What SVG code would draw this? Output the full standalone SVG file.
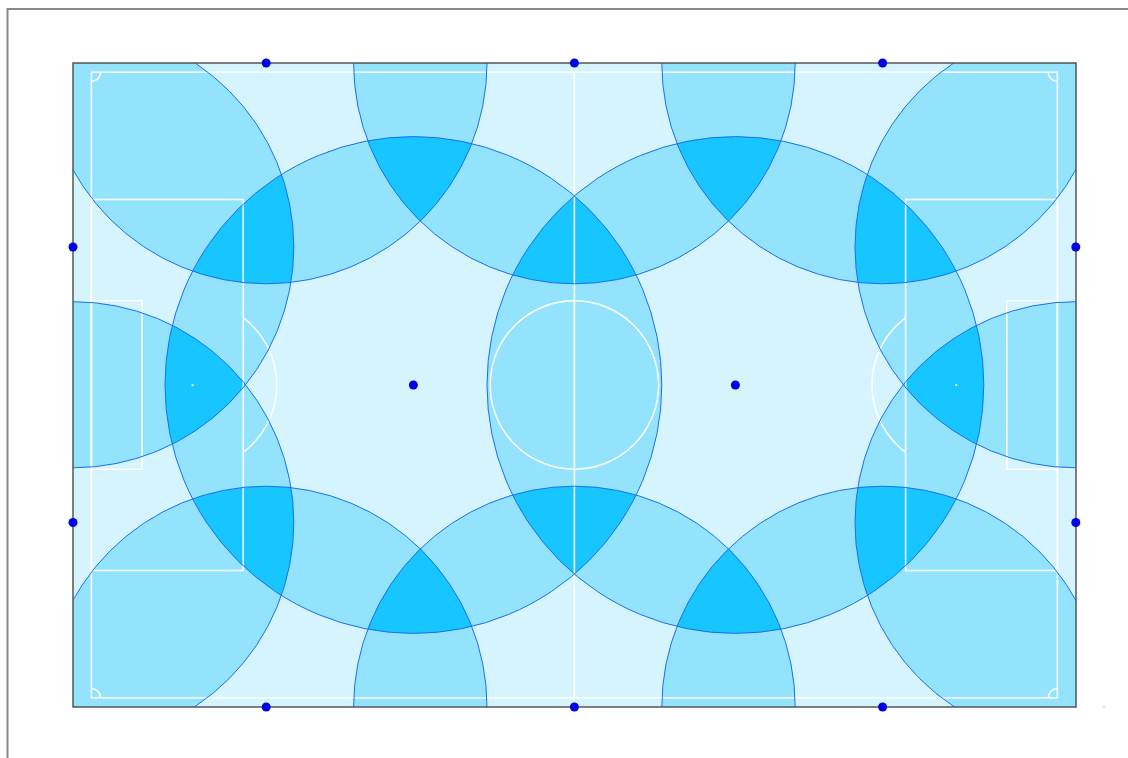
<svg xmlns="http://www.w3.org/2000/svg" width="1128" height="758" viewBox="0 0 1128 758">
<style>
.two{fill:#94e3fd}
.three{fill:#17c5ff}
.ring{fill:none;stroke:#1a6ff0;stroke-width:1}
.line{fill:none;stroke:#ffffff;stroke-width:1.5}
.dot{fill:#0000e6}
</style>
<defs>
<clipPath id="field"><rect x="73" y="63" width="1003" height="644"/></clipPath>
<clipPath id="cS1"><circle cx="266.2" cy="63" r="220.8"/></clipPath>
<clipPath id="cS2"><circle cx="574.4" cy="63" r="220.8"/></clipPath>
<clipPath id="cS3"><circle cx="882.6" cy="63" r="220.8"/></clipPath>
<clipPath id="cS4"><circle cx="73" cy="247" r="220.8"/></clipPath>
<clipPath id="cS5"><circle cx="1075.8" cy="247" r="220.8"/></clipPath>
<clipPath id="cS6"><circle cx="73" cy="522.5" r="220.8"/></clipPath>
<clipPath id="cS7"><circle cx="1075.8" cy="522.5" r="220.8"/></clipPath>
<clipPath id="cS8"><circle cx="266.2" cy="707" r="220.8"/></clipPath>
<clipPath id="cS9"><circle cx="574.4" cy="707" r="220.8"/></clipPath>
<clipPath id="cS10"><circle cx="882.6" cy="707" r="220.8"/></clipPath>
<clipPath id="cB1"><circle cx="413.4" cy="385" r="248.4"/></clipPath>
<clipPath id="cB2"><circle cx="735.4" cy="385" r="248.4"/></clipPath>
<circle id="S1" cx="266.2" cy="63" r="220.8"/>
<circle id="S2" cx="574.4" cy="63" r="220.8"/>
<circle id="S3" cx="882.6" cy="63" r="220.8"/>
<circle id="S4" cx="73" cy="247" r="220.8"/>
<circle id="S5" cx="1075.8" cy="247" r="220.8"/>
<circle id="S6" cx="73" cy="522.5" r="220.8"/>
<circle id="S7" cx="1075.8" cy="522.5" r="220.8"/>
<circle id="S8" cx="266.2" cy="707" r="220.8"/>
<circle id="S9" cx="574.4" cy="707" r="220.8"/>
<circle id="S10" cx="882.6" cy="707" r="220.8"/>
<circle id="B1" cx="413.4" cy="385" r="248.4"/>
<circle id="B2" cx="735.4" cy="385" r="248.4"/>
</defs>
<path d="M7.5,758 V9 H1128" fill="none" stroke="#888888" stroke-width="2"/>
<g clip-path="url(#field)">
<rect x="73" y="63" width="1003" height="644" fill="#d5f4fe"/>
<g id="coverage-2" class="two">
<use href="#S1" clip-path="url(#cS2)"/>
<use href="#S2" clip-path="url(#cS3)"/>
<use href="#S1" clip-path="url(#cS4)"/>
<use href="#S3" clip-path="url(#cS5)"/>
<use href="#S4" clip-path="url(#cS6)"/>
<use href="#S5" clip-path="url(#cS7)"/>
<use href="#S6" clip-path="url(#cS8)"/>
<use href="#S8" clip-path="url(#cS9)"/>
<use href="#S9" clip-path="url(#cS10)"/>
<use href="#S7" clip-path="url(#cS10)"/>
<use href="#S1" clip-path="url(#cB1)"/>
<use href="#S2" clip-path="url(#cB1)"/>
<use href="#S2" clip-path="url(#cB2)"/>
<use href="#S3" clip-path="url(#cB2)"/>
<use href="#S4" clip-path="url(#cB1)"/>
<use href="#S5" clip-path="url(#cB2)"/>
<use href="#S6" clip-path="url(#cB1)"/>
<use href="#S7" clip-path="url(#cB2)"/>
<use href="#S8" clip-path="url(#cB1)"/>
<use href="#S9" clip-path="url(#cB1)"/>
<use href="#S9" clip-path="url(#cB2)"/>
<use href="#S10" clip-path="url(#cB2)"/>
<use href="#B1" clip-path="url(#cB2)"/>
</g>
<g id="coverage-3" class="three">
<g clip-path="url(#cB1)"><use href="#S1" clip-path="url(#cS4)"/></g>
<g clip-path="url(#cB1)"><use href="#S1" clip-path="url(#cS2)"/></g>
<g clip-path="url(#cB1)"><use href="#S2" clip-path="url(#cB2)"/></g>
<g clip-path="url(#cB2)"><use href="#S2" clip-path="url(#cS3)"/></g>
<g clip-path="url(#cB2)"><use href="#S3" clip-path="url(#cS5)"/></g>
<g clip-path="url(#cB1)"><use href="#S4" clip-path="url(#cS6)"/></g>
<g clip-path="url(#cB2)"><use href="#S5" clip-path="url(#cS7)"/></g>
<g clip-path="url(#cB1)"><use href="#S6" clip-path="url(#cS8)"/></g>
<g clip-path="url(#cB1)"><use href="#S8" clip-path="url(#cS9)"/></g>
<g clip-path="url(#cB1)"><use href="#S9" clip-path="url(#cB2)"/></g>
<g clip-path="url(#cB2)"><use href="#S9" clip-path="url(#cS10)"/></g>
<g clip-path="url(#cB2)"><use href="#S7" clip-path="url(#cS10)"/></g>
</g>
<g id="pitch" class="line">
<rect x="91.4" y="72.2" width="966" height="625.6"/>
<line x1="574.4" y1="72.2" x2="574.4" y2="697.8"/>
<circle cx="574.4" cy="385" r="84.2"/>
<rect x="91.4" y="199.5" width="151.8" height="371"/>
<rect x="91.4" y="300.7" width="50.6" height="168.6"/>
<path d="M243.2,317.7 A84.2,84.2 0 0 1 243.2,452.3"/>
<rect x="905.6" y="199.5" width="151.8" height="371"/>
<rect x="1006.8" y="300.7" width="50.6" height="168.6"/>
<path d="M905.6,317.7 A84.2,84.2 0 0 0 905.6,452.3"/>
<path d="M91.4,81.4 A9.2,9.2 0 0 0 100.6,72.2"/>
<path d="M1048.2,72.2 A9.2,9.2 0 0 0 1057.4,81.4"/>
<path d="M1057.4,688.6 A9.2,9.2 0 0 0 1048.2,697.8"/>
<path d="M100.6,697.8 A9.2,9.2 0 0 0 91.4,688.6"/>
<circle cx="192.6" cy="385" r="1.1" fill="#ffffff" stroke="none"/>
<circle cx="956.2" cy="385" r="1.1" fill="#ffffff" stroke="none"/>
</g>
<g id="ranges" class="ring">
<use href="#S1"/><use href="#S2"/><use href="#S3"/><use href="#S4"/><use href="#S5"/><use href="#S6"/>
<use href="#S7"/><use href="#S8"/><use href="#S9"/><use href="#S10"/><use href="#B1"/><use href="#B2"/>
</g>
</g>
<rect x="73" y="63" width="1003" height="644" fill="none" stroke="#4a4a4a" stroke-width="1.4"/>
<g id="sensors" class="dot">
<circle id="s1" cx="266.2" cy="63" r="4.5"/>
<circle id="s2" cx="574.4" cy="63" r="4.5"/>
<circle id="s3" cx="882.6" cy="63" r="4.5"/>
<circle id="s4" cx="73" cy="247" r="4.5"/>
<circle id="s5" cx="1075.8" cy="247" r="4.5"/>
<circle id="s6" cx="73" cy="522.5" r="4.5"/>
<circle id="s7" cx="1075.8" cy="522.5" r="4.5"/>
<circle id="s8" cx="266.2" cy="707" r="4.5"/>
<circle id="s9" cx="574.4" cy="707" r="4.5"/>
<circle id="s10" cx="882.6" cy="707" r="4.5"/>
<circle id="b1" cx="413.4" cy="385" r="4.5"/>
<circle id="b2" cx="735.4" cy="385" r="4.5"/>
</g>
<rect x="1103" y="706" width="2" height="2" fill="#cfe0f6"/>
</svg>
